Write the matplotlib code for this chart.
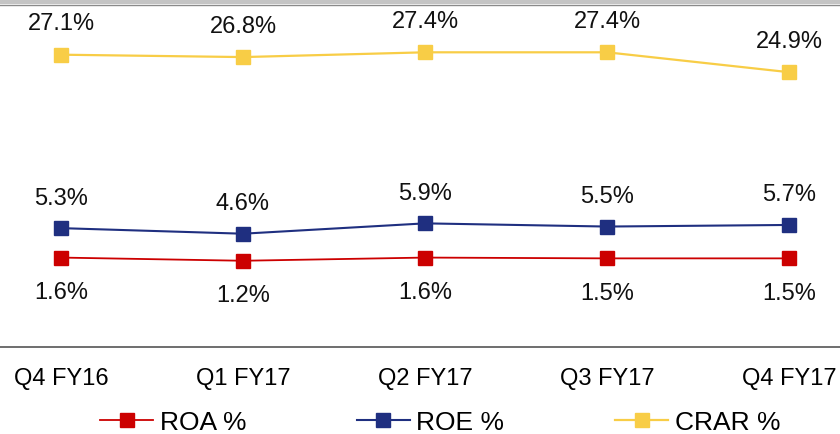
import numpy as np
import matplotlib
matplotlib.use("Agg")
from matplotlib import pyplot as plt
from matplotlib.patches import Rectangle

quarters = ["Q4 FY16", "Q1 FY17", "Q2 FY17", "Q3 FY17", "Q4 FY17"]
roa = [1.6, 1.2, 1.6, 1.5, 1.5]
roe = [5.3, 4.6, 5.9, 5.5, 5.7]
crar = [27.1, 26.8, 27.4, 27.4, 24.9]

plt.rcParams["font.family"] = ["Liberation Sans", "DejaVu Sans"]

fig = plt.figure(figsize=(8.4, 4.35), dpi=100)
ax = fig.add_axes([0.0, 0.1989, 1.0, 0.8011])

# thin gray band along the top edge
fig.patches.append(Rectangle((0, 1 - 5 / 435), 1, 5 / 435, transform=fig.transFigure,
                             facecolor="#c4c4c4", edgecolor="none"))
fig.add_artist(plt.Line2D([0, 1], [1 - 5.5 / 435] * 2, transform=fig.transFigure,
                          color="#8a8a8a", lw=1))

x = np.arange(len(quarters))
series = [
    ("ROA %", roa, "#cc0000", 1.3, -25),
    ("ROE %", roe, "#1f2f80", 1.5, 22),
    ("CRAR %", crar, "#f8cd46", 1.6, 22.5),
]
for name, vals, col, lw, off in series:
    ax.plot(x, vals, color=col, lw=lw, marker="s", markersize=10.5,
            markeredgecolor=col, label=name)
    for xi, v in zip(x, vals):
        ax.annotate(f"{v:.1f}%", (xi, v), xytext=(0, off), textcoords="offset points",
                    ha="center", va="center", fontsize=17, color="#111111")

ax.set_xlim(-0.335, 4.28)
ax.set_ylim(-9.7, 34.1)
ax.set_xticks(x)
ax.set_xticklabels(quarters, fontsize=17)
ax.tick_params(axis="x", length=0, pad=14)
ax.set_yticks([])
for side in ["left", "right", "top"]:
    ax.spines[side].set_visible(False)
ax.spines["bottom"].set_color("#555555")
ax.spines["bottom"].set_linewidth(1.2)
ax.patch.set_alpha(0)

fig.legend(loc="center", bbox_to_anchor=(0.524, 11.5 / 435), ncol=3, frameon=False,
           fontsize=19, handlelength=2.0, handletextpad=0.25, columnspacing=4.2,
           borderaxespad=0)

fig.savefig("out.png", dpi=100)
